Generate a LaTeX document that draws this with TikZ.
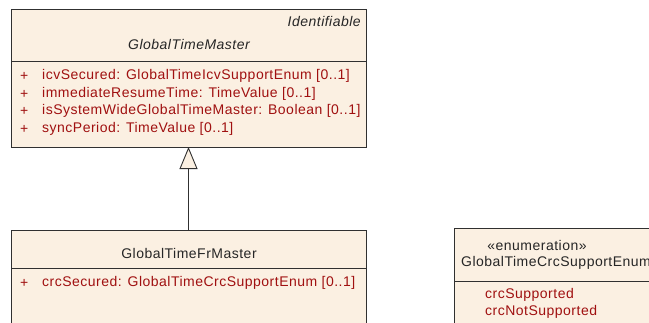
\documentclass[tikz,border=0pt]{standalone}
\usepackage{fontspec}
\setmainfont{Liberation Sans}[LetterSpace=3.5]
\usetikzlibrary{arrows.meta}
\definecolor{umlfill}{HTML}{FBF0E2}
\definecolor{umltext}{HTML}{A01010}
\definecolor{umlline}{HTML}{303030}
\begin{document}
\begin{tikzpicture}[x=1pt,y=-1pt,
  classbox/.style={draw=umlline, line width=0.9pt, fill=umlfill, inner sep=0pt, outer sep=0pt, anchor=north west},
  txt/.style={inner sep=0pt, font=\fontsize{14}{16}\selectfont, text=black!85},
  attr/.style={txt, anchor=west, text=umltext},
  gen/.style={draw=umlline, line width=0.9pt, -{Triangle[open, width=18pt, length=22pt, fill=umlfill]}}]
\clip (0,0) rectangle (649,322);
% GlobalTimeMaster
\node[classbox, minimum width=355pt, minimum height=138pt] (gtm) at (11,9) {};
\draw[umlline, line width=0.9pt] (11,61) -- (366,61);
\node[txt, anchor=east, font=\fontsize{14}{16}\selectfont\itshape] (gtmst) at (361,21) {Identifiable};
\node[txt, font=\fontsize{14}{16}\selectfont\itshape] (gtmname) at (189,44) {GlobalTimeMaster};
\node[attr] (p1) at (20,76) {+};
\node[attr] (a1) at (42,76) {icvSecured: GlobalTimeIcvSupportEnum [0..1]};
\node[attr] (p2) at (20,94) {+};
\node[attr] (a2) at (42,94) {immediateResumeTime: TimeValue [0..1]};
\node[attr] (p3) at (20,111) {+};
\node[attr] (a3) at (42,111) {isSystemWideGlobalTimeMaster: Boolean [0..1]};
\node[attr] (p4) at (20,129) {+};
\node[attr] (a4) at (42,129) {syncPeriod: TimeValue [0..1]};
% GlobalTimeFrMaster
\node[classbox, minimum width=355pt, minimum height=110pt] (gtfr) at (11,230) {};
\draw[umlline, line width=0.9pt] (11,268) -- (366,268);
\node[txt] (gtfrname) at (189,253) {GlobalTimeFrMaster};
\node[attr] (p5) at (20,283) {+};
\node[attr] (a5) at (42,283) {crcSecured: GlobalTimeCrcSupportEnum [0..1]};
% Enumeration
\node[classbox, minimum width=220pt, minimum height=110pt] (enum) at (454,228) {};
\draw[umlline, line width=0.9pt] (454,281) -- (680,281);
\node[txt] (st) at (537,245) {«enumeration»};
\node[txt, anchor=west] (enumname) at (461,263) {GlobalTimeCrcSupportEnum};
\node[attr] (l1) at (485,295) {crcSupported};
\node[attr] (l2) at (485,312) {crcNotSupported};
% generalization
\draw[gen] (gtfr.north) -- (gtm.south);
\end{tikzpicture}
\end{document}
